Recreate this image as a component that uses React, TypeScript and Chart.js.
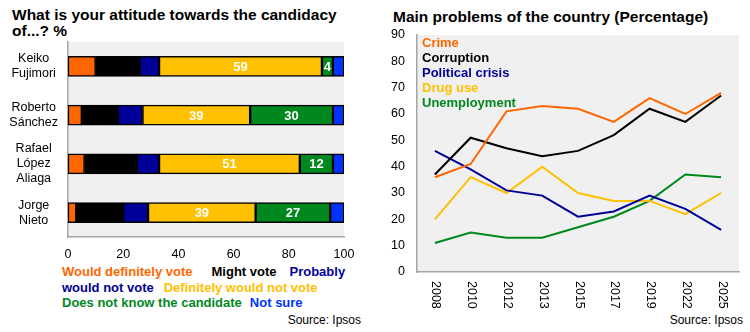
import React, { useEffect, useRef } from "react";
import { Chart, registerables } from "chart.js";

Chart.register(...registerables);

const FONT = 'Arial, "Liberation Sans", sans-serif';

// ---- Left chart data ----
const candidates = [["Keiko", "Fujimori"], ["Roberto", "Sánchez"], ["Rafael", "López", "Aliaga"], ["Jorge", "Nieto"]];
const attitudeNames = ["Would definitely vote", "Might vote", "Probably would not vote", "Definitely would not vote", "Does not know the candidate", "Not sure"];
const wouldDefinitelyVote = [10, 5, 6, 3];
const mightVote = [16, 13, 19, 17];
const probablyNotVote = [7, 9, 8, 9];
const definitelyNotVote = [59, 39, 51, 39];
const doesNotKnow = [4, 30, 12, 27];
const notSure = [4, 4, 4, 5];
const attitudeColors = ["#ff6600", "#000000", "#000099", "#ffc000", "#00881f", "#0033ff"];
const xTicksLeft = [0, 20, 40, 60, 80, 100];

// ---- Right chart data ----
const years = ["2008", "2010", "2012", "2013", "2015", "2017", "2019", "2022", "2025"];
const problemNames = ["Crime", "Corruption", "Political crisis", "Drug use", "Unemployment"];
const crime = [36, 41, 61, 63, 62, 57, 66, 60, 68];
const corruption = [37, 51, 47, 44, 46, 52, 62, 57, 67];
const politicalCrisis = [46, 39, 31, 29, 21, 23, 29, 24, 16];
const drugUse = [20, 36, 30, 40, 30, 27, 27, 22, 30];
const unemployment = [11, 15, 13, 13, 17, 21, 27, 37, 36];
const problemColors = ["#ff6600", "#000000", "#000099", "#ffc000", "#00881f"];

const plotBg = {
  id: "plotBg",
  beforeDraw(chart: any) {
    const { ctx, chartArea: a } = chart;
    ctx.save();
    ctx.fillStyle = "#f0f0f0";
    ctx.fillRect(a.left, a.top, a.right - a.left, a.bottom - a.top);
    ctx.restore();
  },
};

const barLabels = {
  id: "barLabels",
  afterDatasetsDraw(chart: any) {
    const { ctx } = chart;
    ctx.save();
    ctx.font = "bold 13px " + FONT;
    ctx.fillStyle = "#ffffff";
    ctx.textAlign = "center";
    ctx.textBaseline = "middle";
    [3, 4].forEach((di) => {
      const meta = chart.getDatasetMeta(di);
      const data = chart.data.datasets[di].data;
      meta.data.forEach((el: any, i: number) => {
        const p = el.getProps(["x", "y", "base"], true);
        const cx = (p.x + p.base) / 2;
        ctx.fillText(String(data[i]), cx, p.y + 1);
      });
    });
    ctx.restore();
  },
};

const lineLegend = {
  id: "lineLegend",
  afterDatasetsDraw(chart: any) {
    const { ctx, chartArea: a } = chart;
    ctx.save();
    ctx.font = "bold 13px " + FONT;
    ctx.textAlign = "left";
    ctx.textBaseline = "middle";
    problemNames.forEach((n, i) => {
      ctx.fillStyle = problemColors[i];
      ctx.fillText(n, a.left + 5, a.top + 8 + i * 15);
    });
    ctx.restore();
  },
};

const rotatedX = {
  id: "rotatedX",
  afterDraw(chart: any) {
    const { ctx, chartArea: a } = chart;
    const xs = chart.scales.x;
    ctx.save();
    ctx.font = "12.5px " + FONT;
    ctx.fillStyle = "#000";
    ctx.textAlign = "left";
    ctx.textBaseline = "middle";
    years.forEach((y, i) => {
      const x = xs.getPixelForValue(i);
      ctx.save();
      ctx.translate(x + 1, a.bottom + 9);
      ctx.rotate(Math.PI / 2);
      ctx.fillText(y, 0, 0);
      ctx.restore();
    });
    ctx.restore();
  },
};

function LeftChart() {
  const ref = useRef<HTMLCanvasElement>(null);
  useEffect(() => {
    const series = [wouldDefinitelyVote, mightVote, probablyNotVote, definitelyNotVote, doesNotKnow, notSure];
    const chart = new Chart(ref.current as HTMLCanvasElement, {
      type: "bar",
      data: {
        labels: candidates as any,
        datasets: series.map((d, i) => ({
          label: attitudeNames[i],
          data: d,
          backgroundColor: attitudeColors[i],
          borderColor: "#000000",
          borderWidth: 1.5,
          borderSkipped: false,
          barThickness: 20,
        })),
      },
      options: {
        indexAxis: "y",
        responsive: false,
        animation: false,
        layout: { padding: { left: 0, right: 31, top: 42, bottom: 0 } },
        plugins: { legend: { display: false }, tooltip: { enabled: false }, title: { display: false } },
        scales: {
          x: {
            stacked: true,
            min: 0,
            max: 100,
            afterBuildTicks: (s: any) => { s.ticks = xTicksLeft.map((v) => ({ value: v })); },
            afterFit: (s: any) => { s.height = 22; },
            grid: { display: false, drawTicks: false },
            border: { display: true, color: "#a6a6a6", width: 1.5 },
            ticks: { padding: 10, color: "#000", font: { size: 12.5, family: FONT } },
          },
          y: {
            stacked: true,
            afterFit: (s: any) => { s.width = 68; },
            grid: { display: false, drawTicks: false },
            border: { display: true, color: "#a6a6a6", width: 1.5 },
            ticks: { padding: 10, crossAlign: "center", color: "#000", font: { size: 12.5, family: FONT, lineHeight: 1.2 } },
          },
        },
      },
      plugins: [plotBg, barLabels],
    });
    return () => chart.destroy();
  }, []);
  return <canvas ref={ref} width={375} height={262} style={{ position: "absolute", left: 0, top: 0 }} />;
}

function RightChart() {
  const ref = useRef<HTMLCanvasElement>(null);
  useEffect(() => {
    const series = [crime, corruption, politicalCrisis, drugUse, unemployment];
    const chart = new Chart(ref.current as HTMLCanvasElement, {
      type: "line",
      data: {
        labels: years,
        datasets: series.map((d, i) => ({
          label: problemNames[i],
          data: d,
          borderColor: problemColors[i],
          backgroundColor: problemColors[i],
          borderWidth: 2,
          pointRadius: 0,
          tension: 0,
        })),
      },
      options: {
        responsive: false,
        animation: false,
        layout: { padding: { left: 0, right: 11, top: 35, bottom: 40 } },
        plugins: { legend: { display: false }, tooltip: { enabled: false } },
        scales: {
          x: {
            offset: true,
            afterFit: (s: any) => { s.height = 0; },
            grid: { display: false, drawTicks: false, offset: true },
            border: { display: true, color: "#a6a6a6", width: 1.5 },
            ticks: { display: false },
          },
          y: {
            min: 0,
            max: 90,
            afterFit: (s: any) => { s.width = 42; },
            grid: { display: false, drawTicks: false },
            border: { display: true, color: "#a6a6a6", width: 1.5 },
            ticks: { stepSize: 10, padding: 12, color: "#000", font: { size: 12.5, family: FONT } },
          },
        },
      },
      plugins: [plotBg, lineLegend, rotatedX],
    });
    return () => chart.destroy();
  }, []);
  return <canvas ref={ref} width={375} height={312} style={{ position: "absolute", left: 375, top: 0 }} />;
}

export default function App() {
  const leg = (i: number, text: string, mr = 0) => (
    <span style={{ color: attitudeColors[i], marginRight: mr, whiteSpace: "nowrap" }}>{text}</span>
  );
  return (
    <div style={{ position: "fixed", left: 0, top: 0, width: 750, height: 332, background: "#fff", fontFamily: FONT, overflow: "hidden", color: "#000" }}>
      <div style={{ position: "absolute", left: 12, top: 7, fontWeight: "bold", fontSize: 15.5, lineHeight: "16px", whiteSpace: "nowrap" }}>
        What is your attitude towards the candidacy<br />of...? %
      </div>
      <LeftChart />
      <div style={{ position: "absolute", left: 62, top: 264, fontWeight: "bold", fontSize: 13, lineHeight: "15.5px", whiteSpace: "nowrap" }}>
        {leg(0, "Would definitely vote", 19)}{leg(1, "Might vote", 13)}{leg(2, "Probably")}<br />
        {leg(2, "would not vote", 10)}{leg(3, "Definitely would not vote")}<br />
        {leg(4, "Does not know the candidate", 8)}{leg(5, "Not sure")}
      </div>
      <div style={{ position: "absolute", right: 750 - 361, top: 313, fontSize: 12, lineHeight: "14px" }}>Source: Ipsos</div>
      <div style={{ position: "absolute", left: 393, top: 9, fontWeight: "bold", fontSize: 15.5, lineHeight: "16px", whiteSpace: "nowrap" }}>
        Main problems of the country (Percentage)
      </div>
      <RightChart />
      <div style={{ position: "absolute", right: 750 - 743, top: 313, fontSize: 12, lineHeight: "14px" }}>Source: Ipsos</div>
    </div>
  );
}
